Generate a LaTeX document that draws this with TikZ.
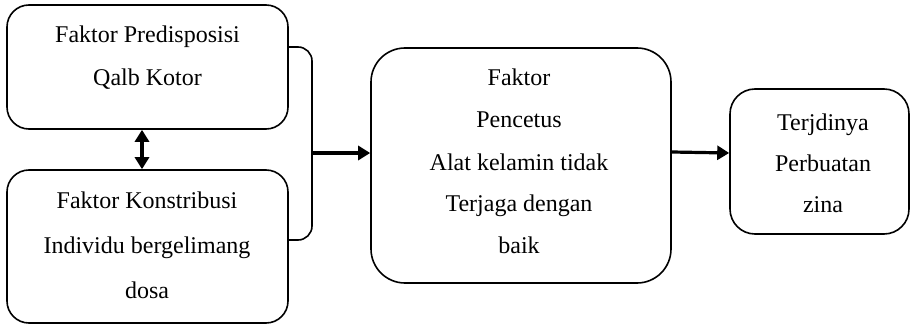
\documentclass[tikz,border=0pt]{standalone}
\usepackage{fontspec}
\setmainfont{Liberation Serif}
\usetikzlibrary{arrows.meta}
\begin{document}
\begin{tikzpicture}[x=1pt,y=-1pt,
  box/.style={draw, line width=1.6pt, rectangle, inner sep=0pt},
  txt/.style={anchor=base, inner sep=0pt, font=\fontsize{24}{28}\selectfont},
  thin line/.style={line width=1.6pt},
  thickarrow/.style={line width=3.2pt, -{Triangle[width=14pt,length=12pt]}},
  dblarrow/.style={line width=3.2pt, {Triangle[width=14pt,length=12pt]}-{Triangle[width=14pt,length=12pt]}}]
\useasboundingbox (0,0) rectangle (912,326);

% boxes
\node[box, rounded corners=22pt, minimum width=281pt, minimum height=124pt] (b1) at (147.5,67) {};
\node[box, rounded corners=22pt, minimum width=281pt, minimum height=153pt] (b2) at (147.5,246.5) {};
\node[box, rounded corners=34pt, minimum width=300pt, minimum height=235pt] (b3) at (521,165.5) {};
\node[box, rounded corners=25pt, minimum width=179pt, minimum height=145pt] (b4) at (819.5,161.5) {};

% texts
\node[txt] (t1a) at (147.5,43) {Faktor Predisposisi};
\node[txt] (t1b) at (147.5,86) {Qalb Kotor};
\node[txt] (t2a) at (147,208) {Faktor Konstribusi};
\node[txt] (t2b) at (147,253) {Individu bergelimang};
\node[txt] (t2c) at (147,298) {dosa};
\node[txt] (t3a) at (519,86) {Faktor};
\node[txt] (t3b) at (519,128) {Pencetus};
\node[txt] (t3c) at (519,170) {Alat kelamin tidak};
\node[txt] (t3d) at (519,211) {Terjaga dengan};
\node[txt] (t3e) at (519,253) {baik};
\node[txt] (t4a) at (823,130) {Terjdinya};
\node[txt] (t4b) at (823,171) {Perbuatan};
\node[txt] (t4c) at (823,212) {zina};

% connectors
\coordinate (j) at (312,153);
\draw[thin line, rounded corners=14pt] ([yshift=20pt]b1.east) -| (j) |- ([yshift=6.5pt]b2.east);
\draw[thickarrow] (j) -- (b3.west |- j);
\draw[thickarrow] ([yshift=13.5pt]b3.east) -- ([yshift=8.5pt]b4.west);
\draw[dblarrow] ([xshift=-5.5pt]b1.south) -- ([xshift=-5.5pt]b2.north);
\end{tikzpicture}
\end{document}
